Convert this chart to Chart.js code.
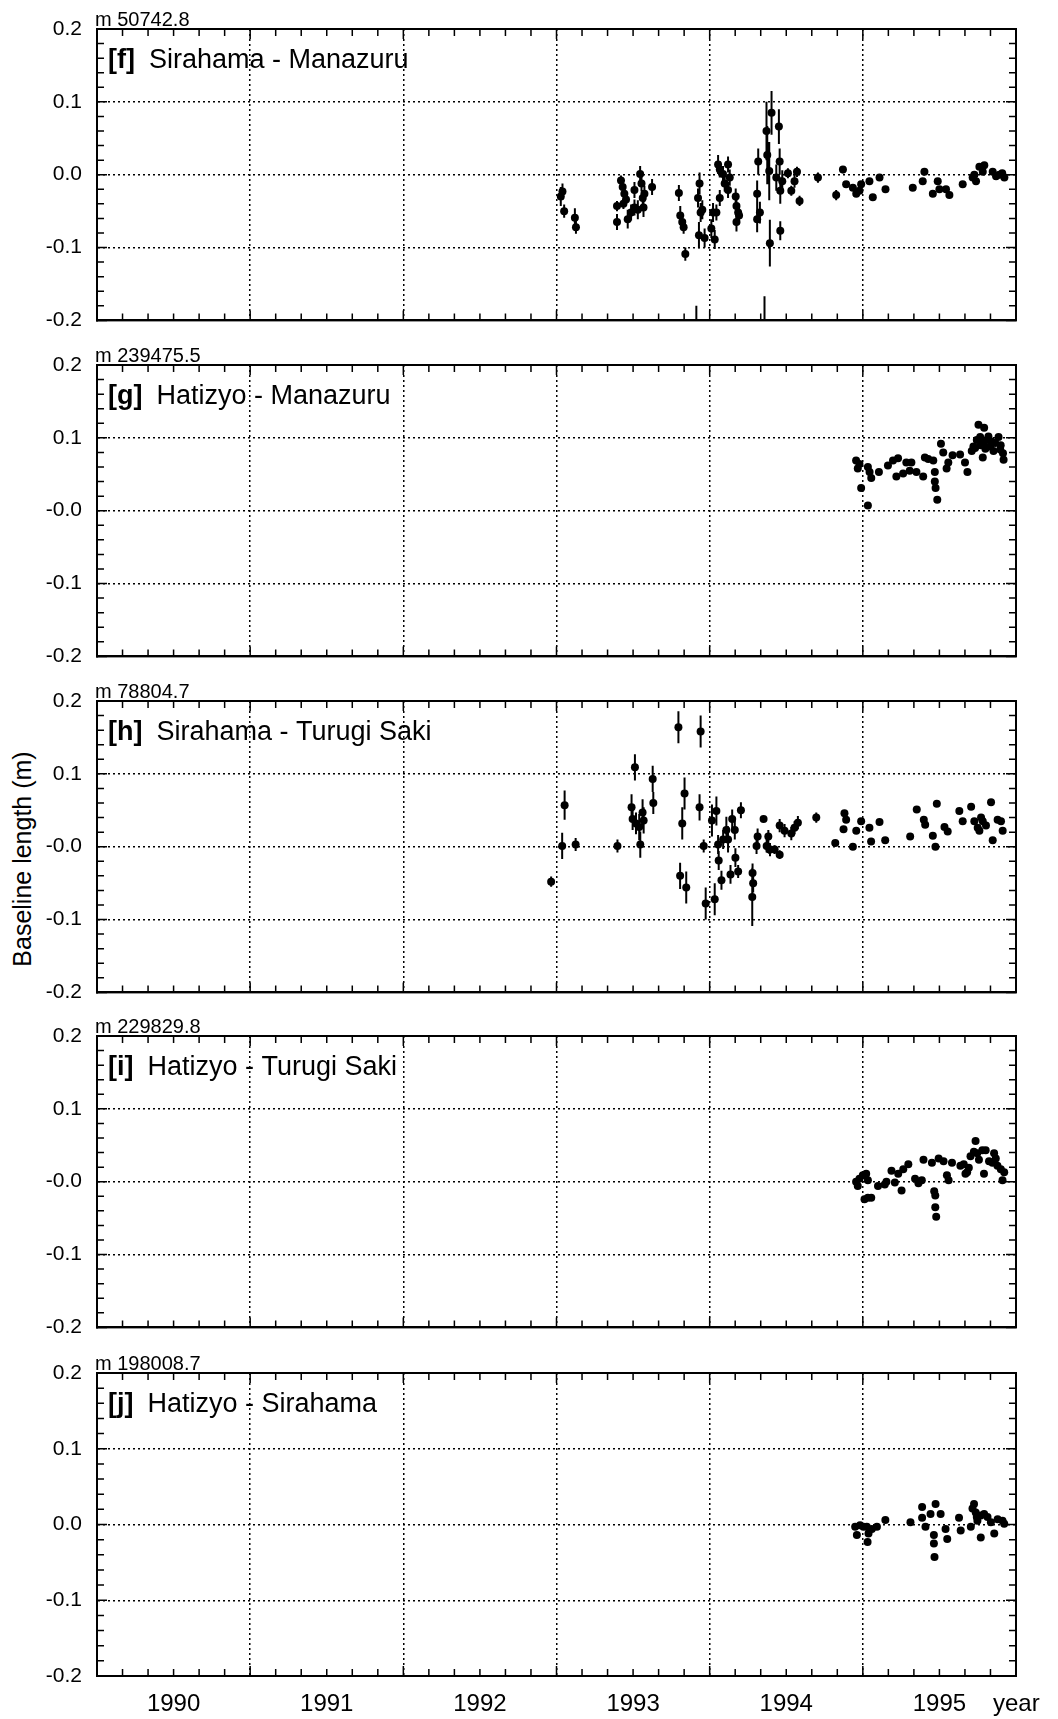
<!DOCTYPE html>
<html>
<head>
<meta charset="utf-8">
<script src="https://cdn.jsdelivr.net/npm/chart.js@4.4.0/dist/chart.umd.min.js"></script>
<style>
  body { margin: 0; background: #fff; width: 1058px; height: 1719px; position: relative; overflow: hidden; }
  canvas { position: absolute; left: 0; }
  #ytitle {
    position: absolute; left: 22px; top: 859px;
    transform: translate(-50%, -50%) rotate(-90deg);
    font: 25px "Liberation Sans", Arial, sans-serif; white-space: nowrap; color: #000;
  }
</style>
</head>
<body>
<div id="ytitle">Baseline length (m)</div>
<canvas id="pf" width="1058" height="348" style="top:0px"></canvas>
<canvas id="pg" width="1058" height="348" style="top:336px"></canvas>
<canvas id="ph" width="1058" height="348" style="top:672px"></canvas>
<canvas id="pi" width="1058" height="348" style="top:1007px"></canvas>
<canvas id="pj" width="1058" height="375" style="top:1344px"></canvas>
<script>
// axis ticks and labels
const yearBounds = [1990, 1991, 1992, 1993, 1994, 1995, 1996];
const yearCenters = [1990.5, 1991.5, 1992.5, 1993.5, 1994.5, 1995.5];
const yearLabels = ['1990', '1991', '1992', '1993', '1994', '1995'];
const yTicks = [-0.2, -0.1, 0, 0.1, 0.2];
const yLabels = ['-0.2', '-0.1', '0.0', '0.1', '0.2'];
const yLabelsNeg = ['-0.2', '-0.1', '-0.0', '0.1', '0.2'];

// [f] Sirahama - Manazuru
const fYears = [1993.028, 1993.039, 1993.050, 1993.120, 1993.127, 1993.395, 1993.395, 1993.421, 1993.432, 1993.443,
  1993.454, 1993.437, 1993.465, 1993.487, 1993.509, 1993.509, 1993.531, 1993.546, 1993.555, 1993.563,
  1993.568, 1993.574, 1993.624, 1993.799, 1993.808, 1993.821, 1993.830, 1993.841, 1993.924, 1993.934,
  1993.941, 1993.930, 1993.952, 1993.967, 1994.011, 1994.022, 1994.033, 1994.044, 1994.055, 1994.066,
  1994.066, 1994.087, 1994.098, 1994.120, 1994.131, 1994.120, 1994.170, 1994.175, 1994.186, 1994.192,
  1994.175, 1994.310, 1994.317, 1994.310, 1994.328, 1994.371, 1994.376, 1994.389, 1994.404, 1994.393,
  1994.452, 1994.457, 1994.461, 1994.461, 1994.435, 1994.474, 1994.511, 1994.533, 1994.554, 1994.570,
  1994.587, 1994.707, 1994.826, 1994.870, 1994.891, 1994.935, 1994.957, 1994.978, 1994.989, 1995.043,
  1995.065, 1995.109, 1995.148, 1995.326, 1995.391, 1995.402, 1995.457, 1995.489, 1995.500, 1995.543,
  1995.565, 1995.652, 1995.728, 1995.761, 1995.793, 1995.739, 1995.848, 1995.891, 1995.924, 1995.717,
  1995.783, 1995.870, 1995.910, 1993.913, 1994.358];
const fValues = [-0.030, -0.023, -0.050, -0.059, -0.072, -0.065, -0.043, -0.008, -0.017, -0.026,
  -0.034, -0.040, -0.061, -0.052, -0.045, -0.021, -0.048, 0.001, -0.012, -0.032,
  -0.045, -0.026, -0.017, -0.025, -0.056, -0.065, -0.072, -0.109, -0.032, -0.012,
  -0.052, -0.083, -0.048, -0.087, -0.074, -0.052, -0.089, -0.052, 0.014, 0.007,
  -0.032, 0.001, -0.012, 0.014, -0.004, -0.021, -0.030, -0.043, -0.052, -0.056,
  -0.065, -0.026, 0.018, -0.061, -0.052, 0.060, 0.027, 0.005, 0.085, -0.094,
  0.066, 0.018, -0.022, -0.077, -0.004, -0.009, 0.002, -0.022, -0.009, 0.004,
  -0.036, -0.004, -0.028, 0.007, -0.013, -0.018, -0.026, -0.022, -0.013, -0.009,
  -0.031, -0.004, -0.020, -0.018, -0.009, 0.004, -0.026, -0.009, -0.020, -0.020,
  -0.028, -0.013, 0.000, 0.011, 0.013, -0.009, 0.004, 0.000, -0.004, -0.004,
  0.004, -0.002, 0.002, -0.230, -0.230];
const fErrors = [0.013, 0.011, 0.009, 0.013, 0.009, 0.011, 0.007, 0.007, 0.007, 0.007,
  0.007, 0.007, 0.013, 0.011, 0.011, 0.011, 0.013, 0.011, 0.011, 0.011,
  0.013, 0.011, 0.011, 0.011, 0.013, 0.011, 0.009, 0.009, 0.013, 0.015,
  0.013, 0.018, 0.013, 0.013, 0.013, 0.013, 0.013, 0.011, 0.013, 0.011,
  0.011, 0.011, 0.011, 0.011, 0.011, 0.011, 0.011, 0.011, 0.011, 0.011,
  0.013, 0.018, 0.018, 0.018, 0.015, 0.040, 0.040, 0.040, 0.030, 0.032,
  0.024, 0.018, 0.018, 0.013, 0.018, 0.015, 0.007, 0.007, 0.009, 0.007,
  0.007, 0.007, 0.007, 0.005, 0.004, 0.004, 0.004, 0.004, 0.004, 0.004,
  0.004, 0.004, 0.004, 0.004, 0.004, 0.004, 0.004, 0.004, 0.004, 0.004,
  0.004, 0.004, 0.004, 0.004, 0.004, 0.004, 0.004, 0.004, 0.004, 0.004,
  0.004, 0.004, 0.004, 0.050, 0.063];

// [g] Hatizyo - Manazuru
const gYears = [1994.956, 1994.967, 1994.978, 1994.989, 1995.033, 1995.033, 1995.044, 1995.055, 1995.105, 1995.164,
  1995.197, 1995.230, 1995.219, 1995.263, 1995.306, 1995.350, 1995.394, 1995.284, 1995.317, 1995.405,
  1995.427, 1995.460, 1995.470, 1995.470, 1995.475, 1995.486, 1995.510, 1995.525, 1995.547, 1995.558,
  1995.586, 1995.635, 1995.667, 1995.683, 1995.711, 1995.722, 1995.744, 1995.766, 1995.755, 1995.792,
  1995.783, 1995.788, 1995.810, 1995.832, 1995.864, 1995.886, 1995.897, 1995.915, 1995.919, 1995.733,
  1995.853, 1995.770, 1995.800, 1995.840, 1995.900, 1995.820];
const gValues = [0.069, 0.058, 0.064, 0.031, 0.007, 0.060, 0.053, 0.045, 0.053, 0.062,
  0.069, 0.072, 0.047, 0.051, 0.055, 0.053, 0.047, 0.066, 0.066, 0.073,
  0.071, 0.069, 0.053, 0.040, 0.031, 0.015, 0.092, 0.080, 0.058, 0.066,
  0.076, 0.077, 0.066, 0.053, 0.082, 0.088, 0.097, 0.101, 0.118, 0.114,
  0.073, 0.093, 0.097, 0.088, 0.093, 0.101, 0.084, 0.079, 0.070, 0.086,
  0.082, 0.090, 0.085, 0.095, 0.090, 0.102];

// [h] Sirahama - Turugi Saki
const hYears = [1992.965, 1993.037, 1993.053, 1993.125, 1993.398, 1993.512, 1993.490, 1993.497, 1993.519, 1993.540,
  1993.547, 1993.562, 1993.569, 1993.628, 1993.632, 1993.796, 1993.941, 1993.807, 1993.847, 1993.821,
  1993.836, 1993.934, 1993.961, 1993.974, 1994.015, 1994.044, 1994.033, 1994.055, 1994.059, 1994.077,
  1994.088, 1994.109, 1994.120, 1994.136, 1994.147, 1994.164, 1994.168, 1994.186, 1994.204, 1994.280,
  1994.284, 1994.278, 1994.306, 1994.313, 1994.352, 1994.372, 1994.383, 1994.394, 1994.391, 1994.424,
  1994.457, 1994.457, 1994.489, 1994.533, 1994.576, 1994.554, 1994.696, 1994.820, 1994.880, 1994.891,
  1994.874, 1994.935, 1994.957, 1994.989, 1995.043, 1995.054, 1995.109, 1995.146, 1995.309, 1995.352,
  1995.398, 1995.407, 1995.457, 1995.474, 1995.483, 1995.533, 1995.554, 1995.630, 1995.652, 1995.707,
  1995.728, 1995.750, 1995.772, 1995.783, 1995.804, 1995.837, 1995.848, 1995.880, 1995.913, 1995.902,
  1995.761];
const hValues = [-0.048, 0.001, 0.057, 0.003, 0.001, 0.109, 0.054, 0.038, 0.032, 0.027,
  0.003, 0.047, 0.036, 0.093, 0.060, 0.164, 0.158, -0.040, -0.056, 0.032,
  0.073, 0.054, 0.001, -0.078, 0.036, 0.049, -0.072, 0.003, -0.019, -0.046,
  0.010, 0.023, 0.010, -0.038, 0.038, 0.023, -0.015, -0.034, 0.050, -0.036,
  -0.050, -0.069, 0.001, 0.014, 0.038, 0.001, 0.014, -0.004, -0.004, -0.004,
  -0.011, 0.029, 0.022, 0.018, 0.033, 0.026, 0.040, 0.005, 0.046, 0.037,
  0.024, 0.000, 0.022, 0.035, 0.026, 0.007, 0.034, 0.009, 0.014, 0.051,
  0.037, 0.030, 0.015, 0.000, 0.059, 0.027, 0.021, 0.049, 0.035, 0.055,
  0.035, 0.026, 0.040, 0.035, 0.029, 0.061, 0.009, 0.037, 0.022, 0.035,
  0.022];
const hErrors = [0.007, 0.018, 0.020, 0.009, 0.009, 0.018, 0.018, 0.015, 0.015, 0.018,
  0.018, 0.018, 0.018, 0.018, 0.015, 0.022, 0.022, 0.018, 0.022, 0.022,
  0.022, 0.018, 0.009, 0.022, 0.022, 0.020, 0.022, 0.013, 0.013, 0.013,
  0.013, 0.018, 0.018, 0.013, 0.013, 0.013, 0.013, 0.009, 0.011, 0.013,
  0.013, 0.040, 0.011, 0.011, 0.004, 0.009, 0.009, 0.009, 0.006, 0.006,
  0.006, 0.009, 0.009, 0.009, 0.009, 0.009, 0.007, 0.004, 0.004, 0.004,
  0.004, 0.004, 0.004, 0.004, 0.004, 0.004, 0.004, 0.004, 0.004, 0.004,
  0.004, 0.004, 0.004, 0.004, 0.004, 0.004, 0.004, 0.004, 0.004, 0.004,
  0.004, 0.004, 0.004, 0.004, 0.004, 0.004, 0.004, 0.004, 0.004, 0.004,
  0.004];

// [i] Hatizyo - Turugi Saki
const iYears = [1994.956, 1994.967, 1994.978, 1995.000, 1995.022, 1995.033, 1995.011, 1995.033, 1995.055, 1995.099,
  1995.143, 1995.154, 1995.209, 1995.253, 1995.187, 1995.231, 1995.264, 1995.297, 1995.341, 1995.363,
  1995.385, 1995.396, 1995.451, 1995.495, 1995.527, 1995.466, 1995.473, 1995.473, 1995.479, 1995.549,
  1995.560, 1995.582, 1995.637, 1995.659, 1995.681, 1995.692, 1995.670, 1995.703, 1995.725, 1995.736,
  1995.747, 1995.758, 1995.780, 1995.802, 1995.791, 1995.824, 1995.846, 1995.857, 1995.868, 1995.879,
  1995.901, 1995.912, 1995.923];
const iValues = [0.000, -0.006, 0.004, 0.009, 0.011, 0.002, -0.024, -0.022, -0.022, -0.006,
  -0.004, 0.000, -0.001, -0.012, 0.015, 0.011, 0.017, 0.024, 0.004, -0.002,
  0.002, 0.030, 0.026, 0.032, 0.028, -0.013, -0.019, -0.035, -0.048, 0.009,
  0.002, 0.026, 0.022, 0.024, 0.013, 0.019, 0.011, 0.035, 0.041, 0.056,
  0.039, 0.030, 0.043, 0.043, 0.011, 0.028, 0.026, 0.039, 0.032, 0.022,
  0.017, 0.002, 0.013];

// [j] Hatizyo - Sirahama
const jYears = [1994.950, 1994.961, 1994.982, 1995.004, 1995.026, 1995.037, 1995.031, 1995.059, 1995.092, 1995.147,
  1995.311, 1995.387, 1995.387, 1995.409, 1995.442, 1995.475, 1995.508, 1995.464, 1995.464, 1995.468,
  1995.540, 1995.551, 1995.628, 1995.639, 1995.705, 1995.716, 1995.726, 1995.737, 1995.748, 1995.770,
  1995.770, 1995.792, 1995.814, 1995.836, 1995.858, 1995.880, 1995.912, 1995.923, 1995.744];
const jValues = [-0.003, -0.014, -0.001, -0.003, -0.003, -0.012, -0.023, -0.006, -0.003, 0.006,
  0.003, 0.023, 0.009, -0.003, 0.014, 0.027, 0.014, -0.014, -0.025, -0.043,
  -0.006, -0.019, 0.009, -0.008, -0.003, 0.021, 0.027, 0.016, 0.005, 0.012,
  -0.017, 0.014, 0.010, 0.003, -0.012, 0.007, 0.005, 0.001, 0.010];

const FONT = '"Liberation Sans", Arial, Helvetica, sans-serif';
Chart.defaults.font.family = FONT;
Chart.defaults.color = '#000';

// vertical error bars, clipped to the plot box
const errorBars = {
  id: 'errorBars',
  beforeDatasetsDraw(chart) {
    const ds = chart.data.datasets[0];
    if (!ds.errors) return;
    const { ctx, chartArea: a, scales: { x, y } } = chart;
    ctx.save();
    ctx.beginPath();
    ctx.rect(a.left, a.top, a.right - a.left, a.bottom - a.top);
    ctx.clip();
    ctx.strokeStyle = '#000';
    ctx.lineWidth = 2;
    ctx.beginPath();
    ds.data.forEach((p, i) => {
      const px = x.getPixelForValue(p.x);
      ctx.moveTo(px, y.getPixelForValue(p.y + ds.errors[i]));
      ctx.lineTo(px, y.getPixelForValue(p.y - ds.errors[i]));
    });
    ctx.stroke();
    ctx.restore();
  }
};

// box, inward minor ticks and panel texts
const frame = {
  id: 'frame',
  afterDraw(chart, args, opts) {
    const { ctx, chartArea: a, scales: { x, y } } = chart;
    ctx.save();
    ctx.strokeStyle = '#000';
    ctx.lineWidth = 2;
    ctx.strokeRect(a.left, a.top, a.right - a.left, a.bottom - a.top);
    ctx.lineWidth = 1.5;
    ctx.beginPath();
    for (let i = 0; i <= 36; i++) {
      const px = x.getPixelForValue(1990 + i / 6);
      const len = i % 6 === 0 ? 10 : 7;
      ctx.moveTo(px, a.top); ctx.lineTo(px, a.top + len);
      ctx.moveTo(px, a.bottom); ctx.lineTo(px, a.bottom - len);
    }
    for (let i = 0; i <= 20; i++) {
      const py = y.getPixelForValue(-0.2 + i * 0.02);
      const len = i % 5 === 0 ? 10 : 7;
      ctx.moveTo(a.left, py); ctx.lineTo(a.left + len, py);
      ctx.moveTo(a.right, py); ctx.lineTo(a.right - len, py);
    }
    ctx.stroke();

    ctx.fillStyle = '#000';
    ctx.textAlign = 'left';
    ctx.textBaseline = 'alphabetic';
    ctx.font = '20px ' + FONT;
    ctx.fillText(opts.base, a.left - 2, a.top - 3);
    ctx.font = 'bold 27px ' + FONT;
    ctx.fillText(opts.tag, a.left + 11, a.top + 39);
    const w = ctx.measureText(opts.tag).width;
    ctx.font = '27px ' + FONT;
    ctx.fillText(opts.name, a.left + 11 + w + 14, a.top + 39);
    if (opts.year) {
      ctx.font = '24px ' + FONT;
      ctx.textBaseline = 'middle';
      ctx.fillText('year', a.right - 23, a.bottom + 28);
    }
    ctx.restore();
  }
};

function makePanel(id, years, values, errors, labels, base, tag, name, last) {
  new Chart(document.getElementById(id), {
    type: 'scatter',
    data: {
      datasets: [{
        data: years.map((t, i) => ({ x: t, y: values[i] })),
        errors: errors,
        pointRadius: 4,
        pointHoverRadius: 4,
        backgroundColor: '#000',
        borderColor: '#000',
        borderWidth: 0
      }]
    },
    options: {
      responsive: false,
      animation: false,
      events: [],
      layout: { padding: { top: 29, right: 42, left: 0, bottom: 0 } },
      plugins: {
        legend: { display: false },
        tooltip: { enabled: false },
        frame: { base: base, tag: tag, name: name, year: last }
      },
      scales: {
        x: {
          type: 'linear',
          min: 1990,
          max: 1996,
          afterBuildTicks: s => { s.ticks = yearBounds.concat(yearCenters).sort((a, b) => a - b).map(v => ({ value: v })); },
          afterFit: s => { s.height = last ? 43 : 16; },
          ticks: {
            display: last,
            autoSkip: false,
            maxRotation: 0,
            padding: 14,
            color: '#000',
            font: { size: 24 },
            callback: v => { const k = yearCenters.indexOf(v); return k >= 0 ? yearLabels[k] : ''; }
          },
          grid: {
            drawTicks: false,
            lineWidth: 1.5,
            color: c => (c.tick && c.tick.value > 1990 && c.tick.value < 1996 && Number.isInteger(c.tick.value)) ? '#000' : 'rgba(0,0,0,0)'
          },
          border: { display: true, color: '#000', width: 2, dash: [2, 3] }
        },
        y: {
          min: -0.2,
          max: 0.2,
          afterBuildTicks: s => { s.ticks = yTicks.map(v => ({ value: v })); },
          afterFit: s => { s.width = 97; },
          ticks: {
            padding: 15,
            color: '#000',
            font: { size: 21 },
            callback: (v, i) => labels[i]
          },
          grid: {
            drawTicks: false,
            lineWidth: 1.5,
            color: c => (c.tick && Math.abs(c.tick.value) < 0.15) ? '#000' : 'rgba(0,0,0,0)'
          },
          border: { display: true, color: '#000', width: 2, dash: [2, 3] }
        }
      }
    },
    plugins: [errorBars, frame]
  });
}

makePanel('pf', fYears, fValues, fErrors, yLabels, 'm 50742.8', '[f]', 'Sirahama - Manazuru', false);
makePanel('pg', gYears, gValues, null, yLabelsNeg, 'm 239475.5', '[g]', 'Hatizyo - Manazuru', false);
makePanel('ph', hYears, hValues, hErrors, yLabelsNeg, 'm 78804.7', '[h]', 'Sirahama - Turugi Saki', false);
makePanel('pi', iYears, iValues, null, yLabelsNeg, 'm 229829.8', '[i]', 'Hatizyo - Turugi Saki', false);
makePanel('pj', jYears, jValues, null, yLabels, 'm 198008.7', '[j]', 'Hatizyo - Sirahama', true);
</script>
</body>
</html>
